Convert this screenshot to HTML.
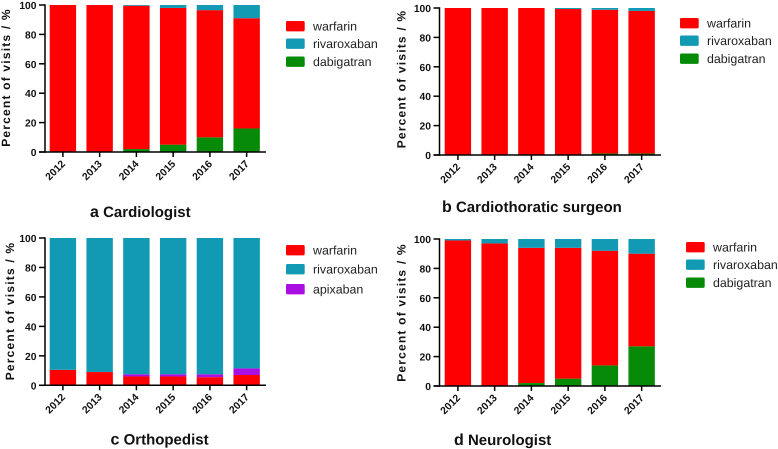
<!DOCTYPE html>
<html>
<head>
<meta charset="utf-8">
<style>
html,body{margin:0;padding:0;background:#fff;width:778px;height:449px;overflow:hidden}
svg{display:block;font-family:"Liberation Sans",Arial,sans-serif;text-rendering:geometricPrecision;filter:blur(0.35px)}
</style>
</head>
<body>
<svg id="chart" xmlns="http://www.w3.org/2000/svg" width="778" height="449" viewBox="0 0 778 449"></svg>
<script>
const years = ['2012','2013','2014','2015','2016','2017'];
const yTickLabels = [0,20,40,60,80,100];

const cardioDabigatran = [0,0,2,5,10,16];
const cardioWarfarin = [100,100,97.5,93,86.5,75];
const cardioRivaroxaban = [0,0,0.5,2,3.5,9];

const surgeonDabigatran = [0,0,0,0,1,1];
const surgeonWarfarin = [100,100,100,99.3,97.8,97];
const surgeonRivaroxaban = [0,0,0,0.7,1.2,2];

const orthoWarfarin = [10.5,9,6,6,5.5,7];
const orthoApixaban = [0,0,1.5,1.5,2,4.5];
const orthoRivaroxaban = [89.5,91,92.5,92.5,92.5,88.5];

const neuroDabigatran = [0,0,2,5,14,27];
const neuroWarfarin = [99,97,92,89,78,63];
const neuroRivaroxaban = [1,3,6,6,8,10];

const colors = {warfarin:'#fe0000', rivaroxaban:'#129ab4', dabigatran:'#078a07', apixaban:'#a90fe0'};
const NS = 'http://www.w3.org/2000/svg';
const svg = document.getElementById('chart');

function make(tag, attrs, parent, text){
  const el = document.createElementNS(NS, tag);
  for (const k in attrs) el.setAttribute(k, attrs[k]);
  if (text !== undefined) el.textContent = text;
  parent.appendChild(el);
  return el;
}

const panels = [
  {id:'cardiologist', letter:'a', name:'Cardiologist', axisX:45, endX:266, firstBar:49.7, y0:152, y100:5,
   titleX:90, titleY:217, labelX:10, labelMid:77.5,
   stack:[['dabigatran',cardioDabigatran],['warfarin',cardioWarfarin],['rivaroxaban',cardioRivaroxaban]],
   legend:['warfarin','rivaroxaban','dabigatran'], legX:286, legY:[21,38.5,56.5]},
  {id:'cardiothoracic-surgeon', letter:'b', name:'Cardiothoratic surgeon', axisX:439.5, endX:661, firstBar:444.7, y0:155, y100:8,
   titleX:442, titleY:212, labelX:405.5, labelMid:79,
   stack:[['dabigatran',surgeonDabigatran],['warfarin',surgeonWarfarin],['rivaroxaban',surgeonRivaroxaban]],
   legend:['warfarin','rivaroxaban','dabigatran'], legX:680, legY:[18,35.5,53.5]},
  {id:'orthopedist', letter:'c', name:'Orthopedist', axisX:45, endX:266, firstBar:49.7, y0:385.3, y100:238,
   titleX:110.5, titleY:444.5, labelX:14, labelMid:311,
   stack:[['warfarin',orthoWarfarin],['apixaban',orthoApixaban],['rivaroxaban',orthoRivaroxaban]],
   legend:['warfarin','rivaroxaban','apixaban'], legX:286, legY:[245,264,284]},
  {id:'neurologist', letter:'d', name:'Neurologist', axisX:439.5, endX:661, firstBar:444.7, y0:386, y100:239,
   titleX:454, titleY:445, labelX:405.5, labelMid:312.5,
   stack:[['dabigatran',neuroDabigatran],['warfarin',neuroWarfarin],['rivaroxaban',neuroRivaroxaban]],
   legend:['warfarin','rivaroxaban','dabigatran'], legX:686, legY:[242,259.5,277.5]}
];

const BAR_W = 26.4, STEP = 36.75;

panels.forEach(function(p){
  const g = make('g', {}, svg);
  
  

  const yScale = function(v){ return p.y0 - (v / 100) * (p.y0 - p.y100); };
  const xScale = function(i){ return p.firstBar + i * STEP; };

  years.forEach(function(year, i){
    let cum = 0;
    p.stack.forEach(function(s){
      const v = s[1][i];
      if (v > 0) {
        const r = make('rect', {x:xScale(i), y:yScale(cum + v), width:BAR_W, height:yScale(cum) - yScale(cum + v), fill:colors[s[0]]}, g);
        
        
      }
      cum += v;
    });
  });

  const yAxis = make('line', {x1:p.axisX, x2:p.axisX, y1:p.y100 - 0.7, y2:p.y0 + 0.7, stroke:'#000', 'stroke-width':1.5}, g);
  
  

  const xAxis = make('line', {x1:p.axisX - 6, x2:p.endX, y1:p.y0, y2:p.y0, stroke:'#000', 'stroke-width':1.5}, g);
  
  

  yTickLabels.forEach(function(t){
    const y = yScale(t);
    const tick = make('line', {x1:p.axisX - 6, x2:p.axisX, y1:y, y2:y, stroke:'#000', 'stroke-width':1.5}, g);
    
    
    const lab = make('text', {x:p.axisX - 8.5, y:y + 4, 'text-anchor':'end', 'font-size':10.3, 'font-weight':'bold', fill:'#111'}, g, String(t));
    
    
  });

  years.forEach(function(year, i){
    const cx = xScale(i) + BAR_W / 2;
    const tick = make('line', {x1:cx, x2:cx, y1:p.y0, y2:p.y0 + 5, stroke:'#000', 'stroke-width':1.5}, g);
    
    
    const tx = cx + 3, ty = p.y0 + 12.5;
    const lab = make('text', {x:tx, y:ty, 'text-anchor':'end', 'font-size':10.4, 'font-weight':'bold', fill:'#111', transform:'rotate(-45 ' + tx + ' ' + ty + ')'}, g, year);
    
    
  });

  const yTitle = make('text', {x:p.labelX, y:p.labelMid, 'text-anchor':'middle', 'font-size':12, 'font-weight':'bold', 'letter-spacing':'1.2px', fill:'#111', transform:'rotate(-90 ' + p.labelX + ' ' + p.labelMid + ')'}, g, 'Percent of visits / %');
  
  

  p.legend.forEach(function(name, i){
    const sw = make('rect', {x:p.legX, y:p.legY[i], width:18.7, height:10.4, rx:1.5, fill:colors[name]}, g);
    
    
    const t = make('text', {x:p.legX + 27, y:p.legY[i] + 9.6, 'font-size':12.4, fill:'#222'}, g, name);
    
    
  });

  const title = make('text', {x:p.titleX, y:p.titleY, 'font-size':15, 'font-weight':'bold', fill:'#111'}, g);
  
  
  const letter = make('tspan', {'font-size':16}, title, p.letter);
  
  
  const nm = make('tspan', {}, title, ' ' + p.name);
  
  
});
</script>
</body>
</html>
